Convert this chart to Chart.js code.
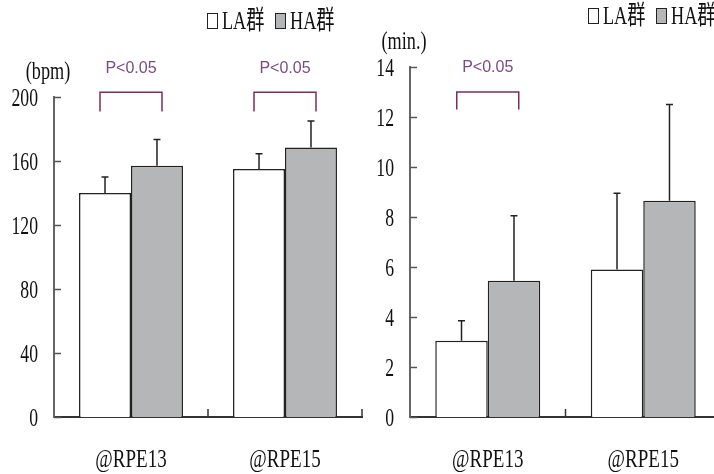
<!DOCTYPE html>
<html>
<head>
<meta charset="utf-8">
<script src="https://cdn.jsdelivr.net/npm/chart.js@4.4.1/dist/chart.umd.min.js"></script>
<style>
  html, body { margin: 0; padding: 0; background: #fff; overflow: hidden; width: 714px; height: 474px; }
  canvas { position: absolute; top: 0; }
  #hrChart { left: 0; }
  #timeChart { left: 360px; }
</style>
</head>
<body>
<canvas id="hrChart" width="380" height="474"></canvas>
<canvas id="timeChart" width="380" height="474"></canvas>
<script>
// 数据
const categories = ['@RPE13', '@RPE15'];
const groups = ['LA群', 'HA群'];

// 心拍数 (bpm)
const hrLA = [140, 155];
const hrLAsd = [10, 9.5];
const hrHA = [157, 168.5];
const hrHAsd = [16.5, 16.5];
const hrTicks = [0, 40, 80, 120, 160, 200];
const hrSig = [0, 1];          // P<0.05 のカテゴリ
const hrBracket = [203, 191];  // 括弧の上端・下端 (値)

// 時間 (min.)
const timeLA = [3.05, 5.9];
const timeLAsd = [0.8, 3.05];
const timeHA = [5.45, 8.65];
const timeHAsd = [2.6, 3.85];
const timeTicks = [0, 2, 4, 6, 8, 10, 12, 14];
const timeSig = [0];
const timeBracket = [13.0, 12.3];

const SERIF = '"Liberation Serif", "Noto Sans CJK JP", serif';

function condensedText(ctx, text, x, y, size, align, sx) {
    ctx.save();
    ctx.translate(x, y);
    ctx.scale(sx, 1);
    ctx.font = size + 'px ' + SERIF;
    ctx.textAlign = align;
    ctx.textBaseline = 'middle';
    ctx.fillStyle = '#111';
    ctx.fillText(text, 0, 0);
    ctx.restore();
}

// 誤差棒・目盛・文字を描くプラグイン
const decorations = {
    id: 'decorations',
    afterDatasetsDraw(chart, args, opts) {
        const ctx = chart.ctx;
        const area = chart.chartArea;
        const xs = chart.scales.x;
        const ys = chart.scales.y;

        // 誤差棒 (上側のみ)
        ctx.save();
        ctx.strokeStyle = '#222';
        ctx.lineWidth = 1.5;
        chart.data.datasets.forEach((ds, i) => {
            chart.getDatasetMeta(i).data.forEach((bar, j) => {
                const yErr = ys.getPixelForValue(ds.data[j] + ds.sd[j]);
                ctx.beginPath();
                ctx.moveTo(bar.x, bar.y);
                ctx.lineTo(bar.x, yErr);
                ctx.moveTo(bar.x - 3.5, yErr);
                ctx.lineTo(bar.x + 3.5, yErr);
                ctx.stroke();
            });
        });

        // 内向きの目盛
        ctx.strokeStyle = '#555';
        ys.ticks.forEach(t => {
            const y = Math.round(ys.getPixelForValue(t.value)) + 0.5;
            ctx.beginPath();
            ctx.moveTo(area.left, y);
            ctx.lineTo(area.left + 7, y);
            ctx.stroke();
        });
        ctx.strokeStyle = '#333';
        for (let i = 1; i <= categories.length; i++) {
            const x = xs.getPixelForValue(i - 0.5);
            ctx.beginPath();
            ctx.moveTo(x, area.bottom);
            ctx.lineTo(x, area.bottom - 8);
            ctx.stroke();
        }
        ctx.restore();

        // 目盛ラベル
        ys.ticks.forEach(t => {
            condensedText(ctx, String(t.value), area.left - 16, ys.getPixelForValue(t.value) + 2, 26, 'right', 0.68);
        });
        categories.forEach((c, i) => {
            condensedText(ctx, c, xs.getPixelForValue(i), area.bottom + 43, 25, 'center', 0.76);
        });
        condensedText(ctx, opts.unit, area.left - 6, area.top - 25, 26, 'center', 0.7);

        // 凡例
        const lx = opts.legendX, ly = opts.legendY;
        ctx.save();
        ctx.lineWidth = 1;
        ctx.strokeStyle = '#222';
        ctx.fillStyle = '#fff';
        ctx.fillRect(lx + 0.5, ly - 7.5, 10, 15);
        ctx.strokeRect(lx + 0.5, ly - 7.5, 10, 15);
        ctx.fillStyle = '#b5b6b8';
        ctx.fillRect(lx + 68.5, ly - 7.5, 10, 15);
        ctx.strokeRect(lx + 68.5, ly - 7.5, 10, 15);
        ctx.restore();
        condensedText(ctx, groups[0], lx + 15, ly + 1, 26, 'left', 0.7);
        condensedText(ctx, groups[1], lx + 83, ly + 1, 26, 'left', 0.7);

        // 有意差の括弧
        ctx.save();
        opts.sig.forEach(i => {
            const cx = xs.getPixelForValue(i);
            const yTop = ys.getPixelForValue(opts.bracket[0]);
            const yBot = ys.getPixelForValue(opts.bracket[1]);
            ctx.strokeStyle = '#7d2d5a';
            ctx.lineWidth = 1.5;
            ctx.beginPath();
            ctx.moveTo(cx - 31, yBot);
            ctx.lineTo(cx - 31, yTop);
            ctx.lineTo(cx + 31, yTop);
            ctx.lineTo(cx + 31, yBot);
            ctx.stroke();
            ctx.fillStyle = '#7b4a88';
            ctx.font = '16px "Liberation Sans", Arial, sans-serif';
            ctx.textAlign = 'center';
            ctx.textBaseline = 'middle';
            ctx.fillText('P<0.05', cx, yTop - 24);
        });
        ctx.restore();
    }
};

function makeChart(id, la, laSd, ha, haSd, ticks, pad, deco) {
    return new Chart(document.getElementById(id), {
        type: 'bar',
        data: {
            labels: categories,
            datasets: [
                { label: groups[0], data: la, sd: laSd, backgroundColor: '#ffffff', borderColor: '#222', borderWidth: 1.5 },
                { label: groups[1], data: ha, sd: haSd, backgroundColor: '#b5b6b8', borderColor: '#222', borderWidth: 1.5 }
            ]
        },
        options: {
            responsive: false,
            devicePixelRatio: 1,
            animation: false,
            layout: { padding: pad },
            datasets: { bar: { barPercentage: 1, categoryPercentage: 0.675 } },
            plugins: {
                legend: { display: false },
                tooltip: { enabled: false },
                decorations: deco
            },
            scales: {
                x: {
                    offset: true,
                    grid: { display: false },
                    border: { display: true, color: '#333', width: 2 },
                    ticks: { display: false },
                    afterFit: s => { s.height = 0; }
                },
                y: {
                    min: ticks[0],
                    max: ticks[ticks.length - 1],
                    grid: { display: false },
                    border: { display: true, color: '#666', width: 2 },
                    ticks: { display: false },
                    afterBuildTicks: s => { s.ticks = ticks.map(v => ({ value: v })); },
                    afterFit: s => { s.width = 0; }
                }
            }
        },
        plugins: [decorations]
    });
}

makeChart('hrChart', hrLA, hrLAsd, hrHA, hrHAsd, hrTicks,
    { left: 54, right: 18, top: 97, bottom: 57 },
    { unit: '(bpm)', legendX: 207, legendY: 21, sig: hrSig, bracket: hrBracket });

makeChart('timeChart', timeLA, timeLAsd, timeHA, timeHAsd, timeTicks,
    { left: 50, right: 19, top: 67, bottom: 57 },
    { unit: '(min.)', legendX: 228, legendY: 16, sig: timeSig, bracket: timeBracket });
</script>
</body>
</html>
